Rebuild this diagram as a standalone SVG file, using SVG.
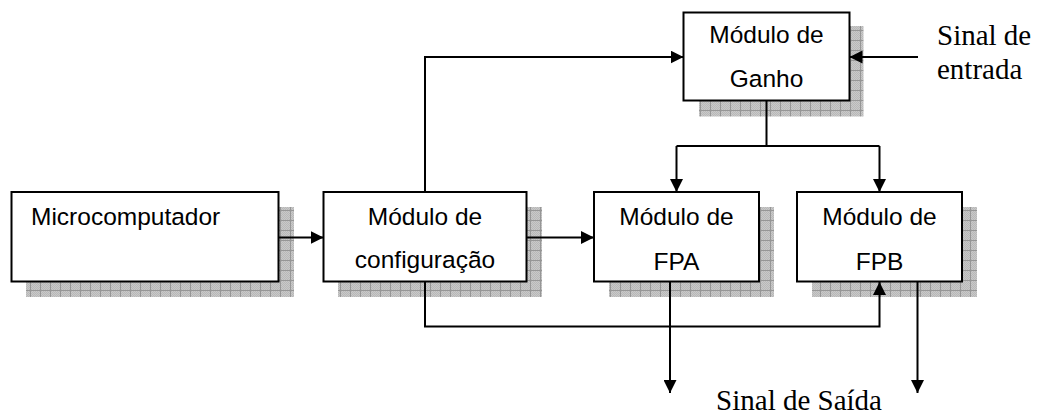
<svg xmlns="http://www.w3.org/2000/svg" width="1039" height="415" viewBox="0 0 1039 415">
  <style>
    .box { fill: #ffffff; stroke: #000000; stroke-width: 2; }
    .shadow { fill: url(#shadowGrid); }
    .label { font-family: "Liberation Sans", Arial, sans-serif; font-size: 24.5px; fill: #000000; }
    .mid { text-anchor: middle; }
    .note { font-family: "Liberation Serif", "Times New Roman", serif; font-size: 29px; fill: #000000; }
    .wire { fill: none; stroke: #000000; stroke-width: 2; }
    .arrow { marker-end: url(#head); }
  </style>
  <defs>
    <!-- fine dither under the shadow grid -->
    <pattern id="dither" width="2" height="2" patternUnits="userSpaceOnUse">
      <rect width="2" height="2" fill="#c9c9c9"/>
      <rect width="1" height="1" fill="#b8b8b8"/>
      <rect x="1" y="1" width="1" height="1" fill="#b8b8b8"/>
    </pattern>
    <!-- hatched drop shadow: dithered grey with a 10px grid -->
    <pattern id="shadowGrid" width="10" height="10" patternUnits="userSpaceOnUse">
      <rect width="10" height="10" fill="url(#dither)"/>
      <path d="M0.5 0 V10 M0 0.5 H10" stroke="#969696" stroke-width="1"/>
    </pattern>
    <marker id="head" viewBox="0 0 13 13" refX="13" refY="6.5" markerWidth="13" markerHeight="13" markerUnits="userSpaceOnUse" orient="auto">
      <path d="M0 0 L13 6.5 L0 13 Z" fill="#000000"/>
    </marker>
  </defs>

  <g id="microcomputador">
    <rect class="shadow" x="26" y="207" width="268" height="90"/>
    <rect class="box" x="11.5" y="192" width="267" height="89.5"/>
    <text class="label" x="31" y="225">Microcomputador</text>
  </g>

  <g id="modulo-configuracao">
    <rect class="shadow" x="338" y="207" width="204" height="90"/>
    <rect class="box" x="323.5" y="192" width="203" height="89.5"/>
    <text class="label mid" x="425" y="225">Módulo de</text>
    <text class="label mid" x="425" y="268">configuração</text>
  </g>

  <g id="modulo-fpa">
    <rect class="shadow" x="609" y="207" width="165" height="90"/>
    <rect class="box" x="594" y="192" width="165" height="89.5"/>
    <text class="label mid" x="676.5" y="225">Módulo de</text>
    <text class="label mid" x="676.5" y="270">FPA</text>
  </g>

  <g id="modulo-fpb">
    <rect class="shadow" x="812" y="207" width="165" height="90"/>
    <rect class="box" x="797" y="192" width="165" height="89.5"/>
    <text class="label mid" x="879.5" y="225">Módulo de</text>
    <text class="label mid" x="879.5" y="270">FPB</text>
  </g>

  <g id="modulo-ganho">
    <rect class="shadow" x="699" y="26" width="164.5" height="90.5"/>
    <rect class="box" x="683.5" y="12.5" width="166" height="88"/>
    <text class="label mid" x="766.5" y="43">Módulo de</text>
    <text class="label mid" x="766.5" y="87">Ganho</text>
  </g>

  <g id="sinal-entrada">
    <text class="note" x="937" y="45">Sinal de</text>
    <text class="note" x="937" y="79">entrada</text>
  </g>

  <g id="sinal-saida">
    <text class="note" x="882" y="410" text-anchor="end">Sinal de Saída</text>
  </g>

  <!-- connectors, drawn last so the heads sit over the shadows -->
  <g id="connectors">
    <path class="wire arrow" d="M279 237.5 H323.5"/>
    <path class="wire arrow" d="M526.5 237.5 H594"/>
    <path class="wire arrow" d="M425 192 V57 H683.5"/>
    <path class="wire arrow" d="M918 57 H849.5"/>
    <path class="wire" d="M766.5 100.5 V146 M676.5 146 H879.5"/>
    <path class="wire arrow" d="M676.5 146 V192"/>
    <path class="wire arrow" d="M879.5 146 V192"/>
    <path class="wire arrow" d="M425 281.5 V326.5 H879.5 V282"/>
    <path class="wire arrow" d="M670 281.5 V393"/>
    <path class="wire arrow" d="M917.5 281.5 V393"/>
  </g>
</svg>
